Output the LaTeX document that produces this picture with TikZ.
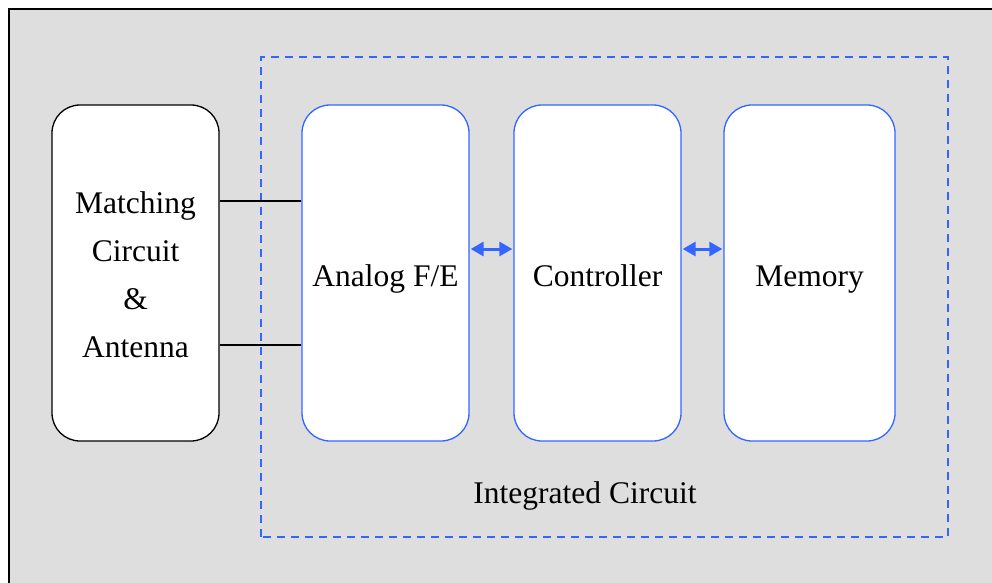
\documentclass[tikz,border=0pt]{standalone}
\usepackage{fontspec}
\setmainfont{Liberation Serif}
\usetikzlibrary{arrows.meta}
\definecolor{bl}{HTML}{3366FF}
\definecolor{bg}{HTML}{DEDEDE}
\begin{document}
\begin{tikzpicture}[x=1pt,y=1pt,
  basebox/.style={line width=1.3pt, fill=white, rounded corners=28pt,
    minimum width=167pt, minimum height=336pt, inner sep=0pt,
    font=\fontsize{31.5}{48}\selectfont},
  box/.style={basebox, draw=bl, text height=26pt, text depth=0pt},
  blkbox/.style={basebox, draw=black, align=center},
  link/.style={line width=1.3pt, draw=black},
  biarrow/.style={draw=bl, fill=bl, line width=3pt, {Triangle[length=13pt,width=14pt]}-{Triangle[length=13pt,width=14pt]}},
  icframe/.style={draw=bl, line width=1.3pt, dash pattern=on 8pt off 6pt}]
\useasboundingbox (0,0) rectangle (992,582);
\fill[bg] (9,-5) rectangle (1000,573);
\draw[line width=2.5pt] (9,-5) -- (9,573) -- (1000,573);
\draw[icframe] (261,45) rectangle (948,525);
\node[blkbox] (match) at (135.5,309) {};
\node[align=center, font=\fontsize{31.5}{48}\selectfont, inner sep=0pt] (matchtxt) at (135.5,307) {Matching\\Circuit\\\&\\Antenna};
\node[box] (analog) at (385.5,309) {Analog F/E};
\node[box] (ctrl) at (597.5,309) {Controller};
\node[box, minimum width=171pt] (mem) at (809.5,309) {Memory};
\node[font=\fontsize{31.5}{36}\selectfont] (ic) at (585,86) {Integrated Circuit};
\coordinate (u) at (0,381);
\coordinate (d) at (0,237);
\draw[link] (match.east |- u) -- (analog.west |- u);
\draw[link] (match.east |- d) -- (analog.west |- d);
\coordinate (a) at (0,333);
\draw[biarrow] ([xshift=1pt]analog.east |- a) -- ([xshift=-1pt]ctrl.west |- a);
\draw[biarrow] ([xshift=1pt]ctrl.east |- a) -- ([xshift=-1pt]mem.west |- a);
\end{tikzpicture}
\end{document}
